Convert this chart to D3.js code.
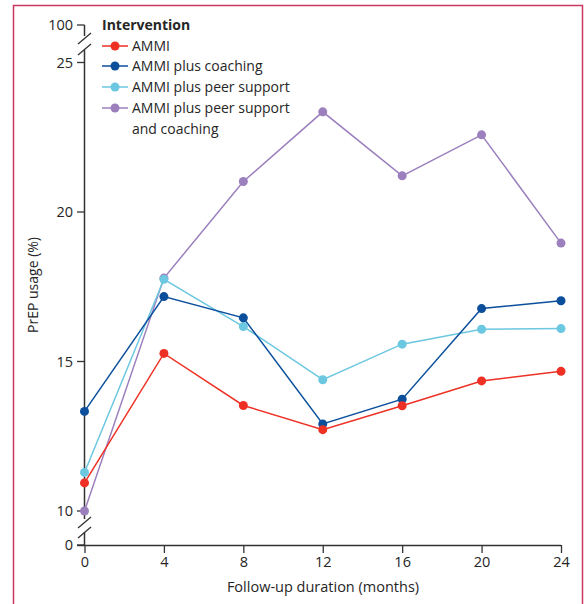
<!DOCTYPE html>
<html><head><meta charset="utf-8">
<script src="https://cdn.jsdelivr.net/npm/d3@7/dist/d3.min.js"></script>
<style>body{margin:0;background:#fff}svg{display:block}text{font-family:"Open Sans",sans-serif;fill:#262626}</style>
</head><body>
<script>
const months = [0, 4, 8, 12, 16, 20, 24];
const seriesNames = ["AMMI", "AMMI plus coaching", "AMMI plus peer support", "AMMI plus peer support|and coaching"];
const seriesColors = ["#ee3124", "#0b4f9c", "#6cc7e0", "#9b80bd"];
const ammi = [10.94, 15.27, 13.53, 12.72, 13.52, 14.35, 14.67];
const ammiCoaching = [13.33, 17.17, 16.46, 12.91, 13.74, 16.77, 17.03];
const ammiPeer = [11.29, 17.75, 16.17, 14.39, 15.58, 16.08, 16.10];
const ammiPeerCoaching = [10.0, 17.79, 21.02, 23.35, 21.21, 22.58, 18.96];
const yTicks = [0, 10, 15, 20, 25, 100];
const xTicks = [0, 4, 8, 12, 16, 20, 24];

const W = 587, H = 604;
const svg = d3.select("body").append("svg").attr("width", W).attr("height", H);

// frame
svg.append("path").attr("d", `M13.5,${H+2}V5.5H582.5V${H+2}`).attr("fill","none").attr("stroke","#c8385f").attr("stroke-width",1.5);

const x = d3.scaleLinear().domain([0, 24]).range([84.5, 561]);
const y = d3.scaleLinear().domain([0, 10, 25, 100]).range([545, 511, 62.5, 25]);

const axisColor = "#333";
const g = svg.append("g");

// y axis line with breaks
const ax = 84.5;
[[y(100), 36], [50, 519], [532, 545]].forEach(([a, b]) => {
  g.append("line").attr("x1", ax).attr("x2", ax).attr("y1", a).attr("y2", b).attr("stroke", axisColor).attr("stroke-width", 1.5);
});
// break slashes
[[44, 33], [55, 44], [528, 517], [538, 527]].forEach(([y1, y2]) => {
  g.append("line").attr("x1", 78).attr("x2", 91).attr("y1", y1).attr("y2", y2).attr("stroke", axisColor).attr("stroke-width", 1.3);
});
// y ticks
yTicks.forEach(t => {
  g.append("line").attr("x1", 77).attr("x2", ax).attr("y1", y(t)).attr("y2", y(t)).attr("stroke", axisColor).attr("stroke-width", 1.3);
  g.append("text").attr("x", 73).attr("y", y(t)).attr("dy", "0.35em").attr("text-anchor", "end").attr("font-size", 14.5).text(t);
});
// x axis
const xAxis = svg.append("g").attr("transform", `translate(0,545)`)
  .call(d3.axisBottom(x).tickValues(xTicks).tickSize(8).tickPadding(4).tickSizeOuter(0));
xAxis.select(".domain").attr("d", `M77,0.5H${x(24)}`).attr("stroke", axisColor).attr("stroke-width", 1.5);
xAxis.selectAll(".tick line").attr("stroke", axisColor).attr("stroke-width", 1.3);
xAxis.selectAll(".tick text").attr("font-size", 14.5).attr("font-family", '"Open Sans",sans-serif').attr("fill", "#262626");

svg.append("text").attr("x", 323).attr("y", 592).attr("text-anchor", "middle").attr("font-size", 14.5).text("Follow-up duration (months)");
svg.append("text").attr("transform", "translate(38,285) rotate(-90)").attr("text-anchor", "middle").attr("font-size", 14).text("PrEP usage (%)");

const allSeries = [ammi, ammiCoaching, ammiPeer, ammiPeerCoaching];
const line = d3.line().x((d, i) => x(months[i])).y(d => y(d));
[3, 2, 1, 0].forEach(si => {
  const vals = allSeries[si];
  svg.append("path").datum(vals).attr("d", line).attr("fill", "none").attr("stroke", seriesColors[si]).attr("stroke-width", 1.5);
});
[3, 2, 1, 0].forEach(si => {
  const vals = allSeries[si];
  svg.append("g").selectAll("circle").data(vals).join("circle")
    .attr("cx", (d, i) => x(months[i])).attr("cy", d => y(d)).attr("r", 4.5).attr("fill", seriesColors[si]);
});

// legend
const lg = svg.append("g");
lg.append("text").attr("x", 102).attr("y", 30).attr("font-size", 14).attr("font-weight", "bold").text("Intervention");
const ly = [46, 66, 87, 108];
seriesNames.forEach((name, i) => {
  lg.append("line").attr("x1", 102).attr("x2", 128).attr("y1", ly[i]).attr("y2", ly[i]).attr("stroke", seriesColors[i]).attr("stroke-width", 1.5);
  lg.append("circle").attr("cx", 115).attr("cy", ly[i]).attr("r", 4.5).attr("fill", seriesColors[i]);
  name.split("|").forEach((part, k) => {
    lg.append("text").attr("x", 132).attr("y", ly[i] + k * 21).attr("dy", "0.35em").attr("font-size", 14).text(part);
  });
});
</script>
</body></html>
